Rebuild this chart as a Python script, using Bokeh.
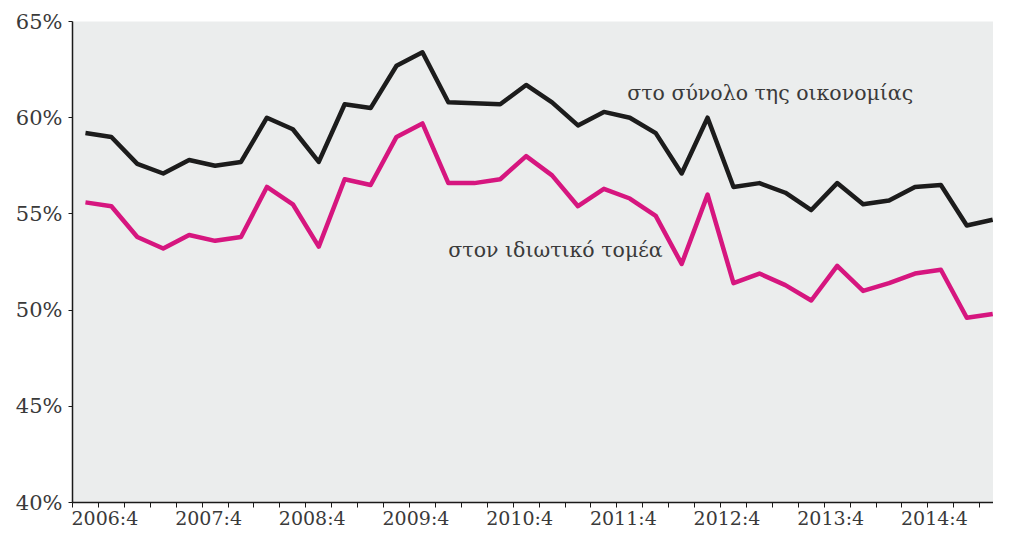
from bokeh.plotting import figure
from bokeh.models import FixedTicker, PrintfTickFormatter, Range1d
from bokeh.core.properties import value
from bokeh.embed import file_html
from bokeh.resources import INLINE

# Quarterly observations, 2006:4 .. 2015:3
quarter_index = list(range(36))
total_economy = [59.2, 59.0, 57.6, 57.1, 57.8, 57.5, 57.7, 60.0, 59.4, 57.7,
                 60.7, 60.5, 62.7, 63.4, 60.8, 60.75, 60.7, 61.7, 60.8, 59.6,
                 60.3, 60.0, 59.2, 57.1, 60.0, 56.4, 56.6, 56.1, 55.2, 56.6,
                 55.5, 55.7, 56.4, 56.5, 54.4, 54.7]
private_sector = [55.6, 55.4, 53.8, 53.2, 53.9, 53.6, 53.8, 56.4, 55.5, 53.3,
                  56.8, 56.5, 59.0, 59.7, 56.6, 56.6, 56.8, 58.0, 57.0, 55.4,
                  56.3, 55.8, 54.9, 52.4, 56.0, 51.4, 51.9, 51.3, 50.5, 52.3,
                  51.0, 51.4, 51.9, 52.1, 49.6, 49.8]
x_tick_labels = ["2006:4", "2007:4", "2008:4", "2009:4", "2010:4",
                 "2011:4", "2012:4", "2013:4", "2014:4"]
y_ticks = [40, 45, 50, 55, 60, 65]
series_names = ["στο σύνολο της οικονομίας", "στον ιδιωτικό τομέα"]

FONT = "DejaVu Serif"
TXT = "#3a3a3a"

p = figure(width=993, height=531, output_backend="svg", toolbar_location=None,
           x_range=Range1d(-0.5, 35.03), y_range=Range1d(40, 65),
           min_border_left=72, min_border_top=21, min_border_bottom=10,
           min_border_right=0)
p.background_fill_color = "#ebeded"
p.border_fill_color = "white"
p.outline_line_color = None
p.xgrid.visible = False
p.ygrid.visible = False

p.line(quarter_index, total_economy, line_color="#1c1c1c", line_width=4.5,
       line_join="round")
p.line(quarter_index, private_sector, line_color="#d6167f", line_width=4.5,
       line_join="round")

p.text(x=[20.9], y=[61.3], text=[series_names[0]], text_font=value(FONT),
       text_font_size="20.5px", text_color=TXT, text_baseline="alphabetic",
       text_align="left")
p.text(x=[14.0], y=[53.1], text=[series_names[1]], text_font=value(FONT),
       text_font_size="20.5px", text_color=TXT, text_baseline="alphabetic",
       text_align="left")

# x axis: tick marks at quarter boundaries, labels every fourth quarter
label_pos = [0.75 + 4 * k for k in range(len(x_tick_labels))]
boundaries = [i - 0.5 for i in range(37)]
p.xaxis.ticker = FixedTicker(ticks=label_pos, minor_ticks=boundaries)
p.xaxis.major_label_overrides = {pos: lab for pos, lab in zip(label_pos, x_tick_labels)}
p.xaxis.major_tick_out = 0
p.xaxis.major_tick_in = 0
p.xaxis.minor_tick_out = 5
p.xaxis.minor_tick_in = 0
p.xaxis.major_label_standoff = -1
p.xaxis.major_label_text_font_size = "19px"

p.yaxis.ticker = FixedTicker(ticks=y_ticks)
p.yaxis.formatter = PrintfTickFormatter(format="%d%%")
p.yaxis.major_tick_out = 4
p.yaxis.major_tick_in = 0
p.yaxis.minor_tick_out = 0
p.yaxis.minor_tick_in = 0
p.yaxis.major_label_standoff = 6
p.yaxis.major_label_text_font_size = "21px"

for ax in (p.xaxis, p.yaxis):
    ax.axis_line_color = "#1a1a1a"
    ax.axis_line_width = 1.5
    ax.major_tick_line_color = "#1a1a1a"
    ax.minor_tick_line_color = "#1a1a1a"
    ax.major_label_text_font = FONT
    ax.major_label_text_color = TXT

open("out.html", "w").write(file_html(p, INLINE))
